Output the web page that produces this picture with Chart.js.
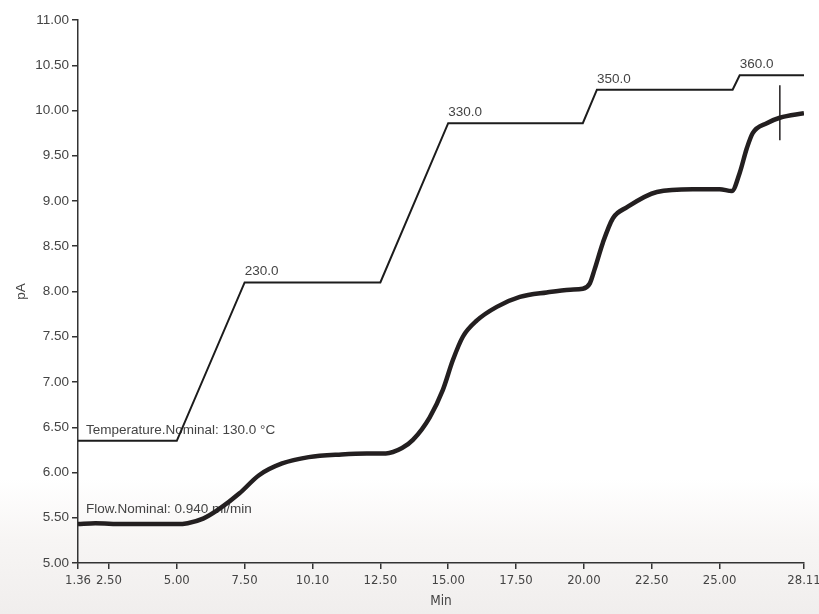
<!DOCTYPE html>
<html>
<head>
<meta charset="utf-8">
<script src="https://cdn.jsdelivr.net/npm/chart.js@4/dist/chart.umd.min.js"></script>
<style>
  html, body { margin: 0; padding: 0; }
  body {
    width: 819px; height: 614px; overflow: hidden;
    background: linear-gradient(to bottom, #ffffff 0%, #ffffff 78%, #f7f5f4 88%, #f0eeed 100%);
  }
  #wrap { position: relative; width: 819px; height: 614px; }
</style>
</head>
<body>
<div id="wrap"><canvas id="chart" width="819" height="614"></canvas></div>
<script>
// detector signal (pA) vs time (min)
const signalMin = [1.36, 2.0, 3.0, 4.0, 5.0, 5.4, 5.97, 6.58, 7.31, 8.03, 8.88, 9.86, 11.07, 12.0, 12.7, 13.3, 13.7, 14.32, 14.8, 15.17, 15.54, 16.06, 16.79, 17.64, 18.63, 19.5, 19.96, 20.22, 20.4, 20.7, 21.07, 21.58, 22.69, 24.01, 25.0, 25.45, 25.74, 26.0, 26.22, 26.74, 27.22, 28.11];
const signalPA = [5.43, 5.44, 5.43, 5.43, 5.43, 5.44, 5.49, 5.60, 5.77, 5.97, 6.10, 6.17, 6.20, 6.21, 6.21, 6.27, 6.36, 6.61, 6.91, 7.24, 7.50, 7.68, 7.83, 7.94, 7.99, 8.02, 8.03, 8.09, 8.25, 8.54, 8.81, 8.93, 9.10, 9.13, 9.13, 9.11, 9.31, 9.58, 9.75, 9.86, 9.92, 9.97];

// nominal temperature program trace (drawn in pA units)
const tempMin = [1.36, 5.0, 7.5, 12.5, 15.0, 19.96, 20.48, 25.48, 25.74, 28.11];
const tempPA = [6.35, 6.35, 8.10, 8.10, 9.86, 9.86, 10.23, 10.23, 10.39, 10.39];

// vertical spike near the end of the run
const spikeMin = [27.22, 27.22];
const spikePA = [9.67, 10.28];

// text labels
const tempLabels = ['Temperature.Nominal: 130.0 °C', '230.0', '330.0', '350.0', '360.0'];
const tempLabelMin = [1.36, 7.5, 15.0, 20.48, 25.74];
const tempLabelPA = [6.35, 8.10, 9.86, 10.23, 10.39];
const flowLabel = 'Flow.Nominal: 0.940 ml/min';
const flowLabelMin = 1.36;
const flowLabelPA = 5.43;

const xTickValues = [1.36, 2.5, 5, 7.5, 10, 12.5, 15, 17.5, 20, 22.5, 25, 28.11];
const xTickLabels = ['1.36', '2.50', '5.00', '7.50', '10.10', '12.50', '15.00', '17.50', '20.00', '22.50', '25.00', '28.11'];

const FONT = 'Liberation Sans, Arial, sans-serif';
const NARROW = '"DejaVu Sans Condensed", Arial, sans-serif';
const TXT = '#444444';
const AX = '#333333';

const toXY = (xs, ys) => xs.map((x, i) => ({ x: x, y: ys[i] }));

const labelPlugin = {
    id: 'runLabels',
    beforeDatasetsDraw(chart) {
        const { ctx, scales: { x, y } } = chart;
        ctx.save();
        ctx.font = '13.5px ' + FONT;
        ctx.fillStyle = TXT;
        ctx.textBaseline = 'alphabetic';
        tempLabels.forEach((t, i) => {
            const px = x.getPixelForValue(tempLabelMin[i]);
            const py = y.getPixelForValue(tempLabelPA[i]);
            ctx.fillText(t, i === 0 ? px + 8 : px, py - 7);
        });
        ctx.fillText(flowLabel, x.getPixelForValue(flowLabelMin) + 8, y.getPixelForValue(flowLabelPA) - 11);
        ctx.restore();
    }
};

new Chart(document.getElementById('chart'), {
    type: 'line',
    data: {
        datasets: [
            { label: 'Temperature', data: toXY(tempMin, tempPA), borderColor: '#1c1c1c', borderWidth: 2, pointRadius: 0, tension: 0 },
            { label: 'Signal', data: toXY(signalMin, signalPA), borderColor: '#231f20', borderWidth: 4.5, pointRadius: 0, cubicInterpolationMode: 'monotone' },
            { label: 'Spike', data: toXY(spikeMin, spikePA), borderColor: '#231f20', borderWidth: 1.5, pointRadius: 0 }
        ]
    },
    options: {
        responsive: false,
        animation: false,
        layout: { padding: { top: 20, right: 15, left: 0, bottom: 0 } },
        plugins: { legend: { display: false }, tooltip: { enabled: false } },
        scales: {
            x: {
                type: 'linear',
                min: 1.36,
                max: 28.11,
                afterBuildTicks: (s) => { s.ticks = xTickValues.map(v => ({ value: v })); },
                afterFit: (s) => { s.height = 51; s.paddingRight = 0; s.paddingLeft = 0; },
                ticks: {
                    autoSkip: false, maxRotation: 0, color: TXT, padding: 4,
                    font: { family: NARROW, size: 13 },
                    callback: (v, i) => xTickLabels[i]
                },
                grid: { drawOnChartArea: false, drawTicks: true, tickLength: 6, color: AX, lineWidth: 1.5 },
                border: { display: true, color: AX, width: 1.5 },
                title: { display: true, text: 'Min', color: TXT, font: { family: NARROW, size: 13.5 }, padding: { top: 4 } }
            },
            y: {
                min: 5,
                max: 11,
                afterFit: (s) => { s.width = 78; s.paddingTop = 0; s.paddingBottom = 0; },
                ticks: {
                    stepSize: 0.5, color: TXT, padding: 3,
                    font: { family: FONT, size: 13.5 },
                    callback: (v) => v.toFixed(2)
                },
                grid: { drawOnChartArea: false, drawTicks: true, tickLength: 6, color: AX, lineWidth: 1.5 },
                border: { display: true, color: AX, width: 1.5 },
                title: { display: true, text: 'pA', color: TXT, font: { family: FONT, size: 13.5 }, padding: { top: 13, bottom: 0 } }
            }
        }
    },
    plugins: [labelPlugin]
});
</script>
</body>
</html>
